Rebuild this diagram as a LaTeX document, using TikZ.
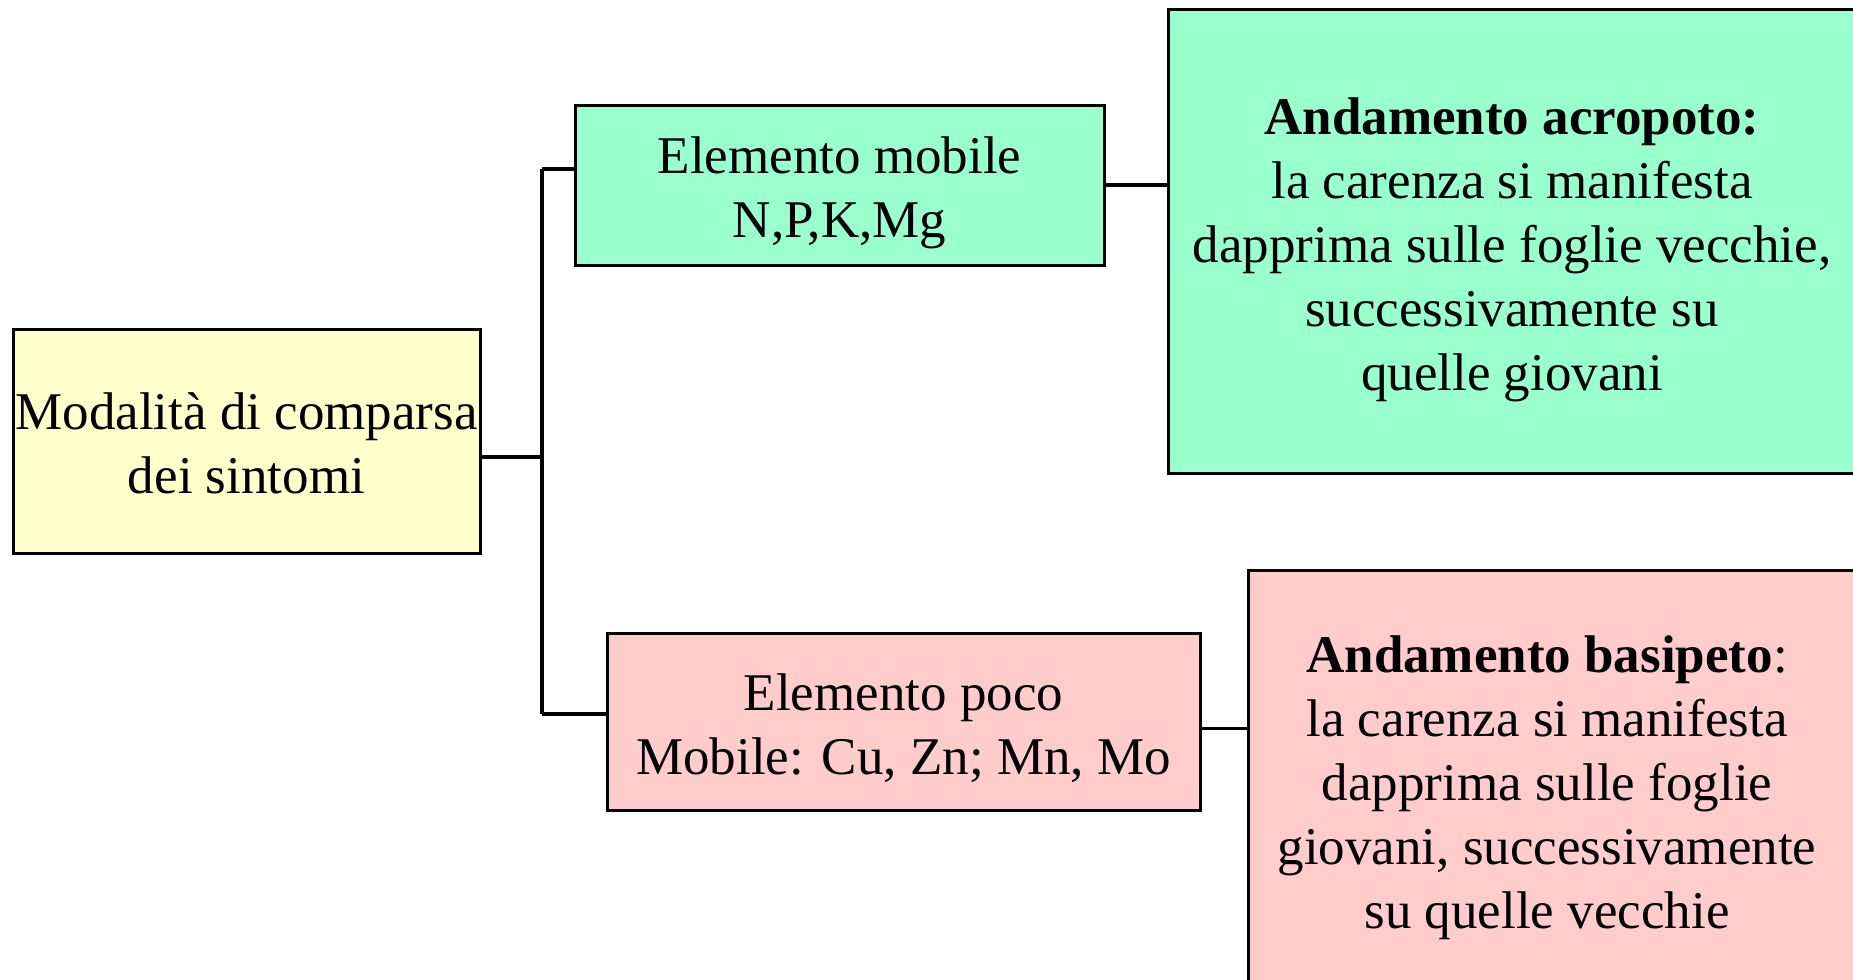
\documentclass[tikz,border=0pt]{standalone}
\usepackage{fontspec}
\setmainfont{Liberation Serif}
\usetikzlibrary{fit}
\definecolor{ybg}{HTML}{FFFFCC}
\definecolor{gbg}{HTML}{99FFCC}
\definecolor{pbg}{HTML}{FFCCCC}
\begin{document}
\begin{tikzpicture}[x=0.5pt,y=-0.5pt,
  boxstyle/.style={draw=black, line width=1.5pt, inner sep=0pt},
  txtstyle/.style={inner sep=0pt, align=center, font=\fontsize{26.5}{32}\selectfont},
  conn/.style={draw=black, line width=1.7pt}]
\useasboundingbox (0,0) rectangle (1853,980);
% boxes
\node[boxstyle, fill=ybg, fit={(13,329) (480,553)}] (ybox) {};
\node[boxstyle, fill=gbg, fit={(575,105) (1104,265)}] (mob) {};
\node[boxstyle, fill=pbg, fit={(607,633) (1200,810)}] (poco) {};
\node[boxstyle, fill=gbg, fit={(1168,9) (1860,473)}] (acro) {};
\node[boxstyle, fill=pbg, fit={(1248,570) (1860,1002)}] (basi) {};
% texts
\node[txtstyle] (ytxt) at ([yshift=-1pt]ybox.center) {Modalità di comparsa\\dei sintomi};
\node[txtstyle] (mobtxt) at ([yshift=-3.7pt]mob.center) {Elemento mobile\\N,P,K,Mg};
\node[txtstyle] (pocotxt) at ([yshift=-3.3pt]poco.center) {Elemento poco\\Mobile: Cu, Zn; Mn, Mo};
\node[txtstyle] (acrotxt) at ([xshift=-1pt,yshift=-4.3pt]acro.center) {\textbf{Andamento acropoto:}\\la carenza si manifesta\\dapprima sulle foglie vecchie,\\successivamente su\\quelle giovani};
\node[txtstyle] (basitxt) at ([xshift=-3.5pt,yshift=-1.1pt]basi.center) {\textbf{Andamento basipeto}:\\la carenza si manifesta\\dapprima sulle foglie\\giovani, successivamente\\su quelle vecchie};
% connectors
\coordinate (jm) at (542,457);
\coordinate (jt) at (542,169);
\coordinate (jb) at (542,714);
\draw[conn] ([yshift=-8pt]ybox.east) -- (jm);
\draw[conn] (jt) -- (jb);
\draw[conn] (jt) -- (jt -| mob.west);
\draw[conn] (jb) -- (jb -| poco.west);
\draw[conn] (mob.east) -- (mob.east -| acro.west);
\draw[conn] ([yshift=-3.5pt]poco.east) -- ([yshift=-3.5pt]poco.east -| basi.west);
\end{tikzpicture}
\end{document}
